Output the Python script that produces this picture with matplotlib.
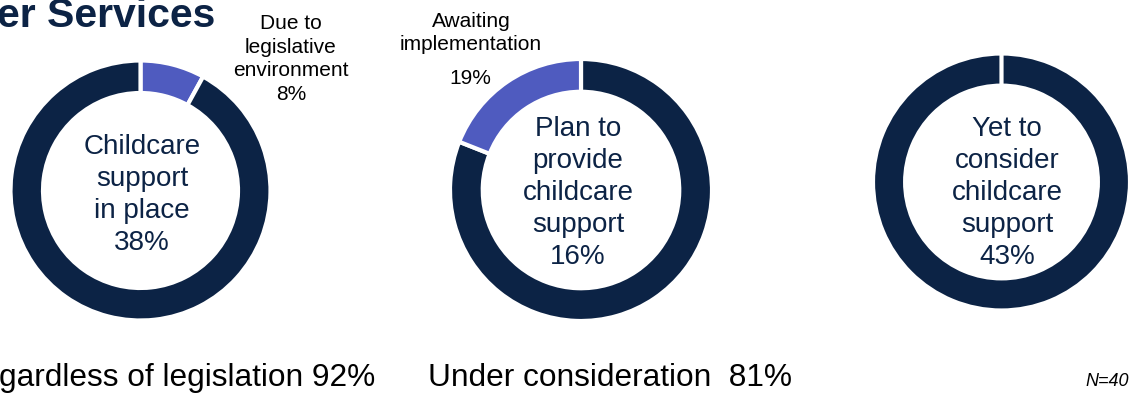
import matplotlib.pyplot as plt

plt.rcParams['font.family'] = ['Liberation Sans', 'DejaVu Sans']

NAVY = '#0C2345'
BLUE = '#4F5BBF'

# ring splits, clockwise from 12 o'clock
in_place_split = [8, 92]          # due to legislative environment / regardless of legislation
plan_split = [81, 19]             # under consideration / awaiting implementation
yet_split = [100, 0]

in_place_colors = [BLUE, NAVY]
plan_colors = [NAVY, BLUE]
yet_colors = [NAVY, NAVY]

center_labels = ['Childcare\nsupport\nin place', 'Plan to\nprovide\nchildcare\nsupport',
                 'Yet to\nconsider\nchildcare\nsupport']
center_pcts = [38, 16, 43]

W, H = 1129, 395
fig = plt.figure(figsize=(W / 100, H / 100), dpi=100)


def px(x, y):
    return x / W, 1 - y / H


def donut(cx, cy, r, values, colors):
    ax = fig.add_axes([(cx - r) / W, 1 - (cy + r) / H, 2 * r / W, 2 * r / H])
    ax.pie(values, colors=colors, startangle=90, counterclock=False, radius=1,
           wedgeprops=dict(width=0.25, edgecolor='white', linewidth=3))
    ax.set_xlim(-1, 1)
    ax.set_ylim(-1, 1)
    ax.set_aspect('equal')
    ax.axis('off')
    return ax


donut(140.5, 190.5, 130, in_place_split, in_place_colors)
donut(581, 190, 131, plan_split, plan_colors)
donut(1001.5, 182, 128.5, yet_split, yet_colors)

# labels inside the rings
for (x, y), lab, pct in zip([(142, 195), (578, 193), (1007, 193)], center_labels, center_pcts):
    fig.text(*px(x, y), f'{lab}\n{pct}%', ha='center', va='center', fontsize=20,
             color=NAVY, linespacing=1.31)

# callouts for the light slices
fig.text(*px(291, 59), f'Due to\nlegislative\nenvironment\n{in_place_split[0]}%',
         ha='center', va='center', fontsize=15, color='black', linespacing=1.3)
fig.text(*px(471, 33), 'Awaiting\nimplementation', ha='center', va='center',
         fontsize=15, color='black', linespacing=1.3)
fig.text(*px(470, 79), f'{plan_split[1]}%', ha='center', va='center',
         fontsize=15, color='black')

# title, bottom captions, base
fig.text(*px(-3, 27), 'er Services', ha='left', va='baseline', fontsize=29.5,
         fontweight='bold', color=NAVY)
fig.text(*px(-1, 378), f'gardless of legislation {in_place_split[1]}%', ha='left',
         va='center', fontsize=22.8, color='black')
fig.text(*px(428, 378), f'Under consideration  {plan_split[0]}%', ha='left',
         va='center', fontsize=22.8, color='black')
fig.text(*px(1129, 382), 'N=40', ha='right', va='center', fontsize=13,
         style='italic', color='black')

fig.savefig('out.png', dpi=100)
